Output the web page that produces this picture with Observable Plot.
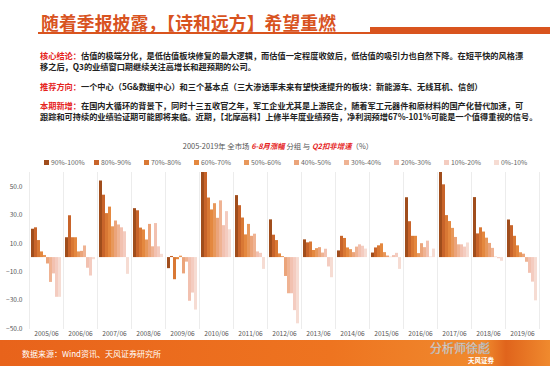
<!DOCTYPE html>
<html>
<head>
<meta charset="utf-8">
<script src="https://cdn.jsdelivr.net/npm/d3@7"></script>
<script src="https://cdn.jsdelivr.net/npm/@observablehq/plot@0.6"></script>
<style>
  html, body { margin: 0; padding: 0; background: #fff; }
  #page { position: relative; width: 550px; height: 366px; overflow: hidden; background: #fff;
          font-family: "Noto Sans CJK SC", "Noto Sans", sans-serif; }
  .abs { position: absolute; white-space: nowrap; }
  #title { left: 41px; top: 9px; font-size: 17.8px; font-weight: 700; color: #d8531f; letter-spacing: 0.1px; }
  #uline { left: 38px; top: 32px; width: 332px; height: 2px; background: #d9541e; }
  #ublock { left: 370px; top: 27px; width: 180px; height: 7px; background: #d9541e; }
  .para { left: 40px; font-size: 8.2px; font-weight: 700; color: #222; line-height: 11px; }
  .red { color: #e5231d; }
  #ctitle { left: 0; width: 556px; text-align: center; top: 140px; font-size: 7.4px; color: #555; }
  #ctitle .r { color: #e5231d; font-style: italic; font-weight: 700; }
  #legend { left: 44px; top: 157px; display: flex; font-size: 6.8px; color: #666; }
  #legend .it { width: 50px; display: flex; align-items: center; }
  #legend .sw { width: 5px; height: 5px; margin-right: 2px; }
  #chart { left: 0; top: 165px; }
  #footer { left: 0; top: 340px; width: 550px; height: 26px;
            background: linear-gradient(90deg, #e8631b 0%, #ee7420 60%, #f08a2e 88%, #e0641c 92%, #f08a2e 100%); }
  #src { left: 22px; top: 348px; font-size: 8px; color: #fff; }
  #wm { left: 430px; top: 342px; font-size: 12px; line-height: 12px; color: rgba(255,255,255,0.8); -webkit-text-stroke: 0.4px #aaa; font-weight: 400; }
  #logo { left: 468px; top: 356px; font-size: 6.5px; line-height: 8px; color: #fff; font-weight: 700; }
</style>
</head>
<body>
<div id="page">
  <div class="abs" id="title">随着季报披露，【诗和远方】希望重燃</div>
  <div class="abs" id="uline"></div>
  <div class="abs" id="ublock"></div>

  <div class="abs para" style="top:50px"><span class="red">核心结论：</span>估值的极端分化，是低估值板块修复的最大逻辑，而估值一定程度收敛后，低估值的吸引力也自然下降。在短平快的风格漂</div>
  <div class="abs para" style="top:61px">移之后，Q3的业绩窗口期继续关注高增长和超预期的公司。</div>
  <div class="abs para" style="top:81px"><span class="red">推荐方向：</span>一个中心（5G&amp;数据中心）和三个基本点（三大渗透率未来有望快速提升的板块：新能源车、无线耳机、信创）</div>
  <div class="abs para" style="top:100px"><span class="red">本期新增：</span>在国内大循环的背景下，同时十三五收官之年，军工企业尤其是上游民企，随着军工元器件和原材料的国产化替代加速，可</div>
  <div class="abs para" style="top:111px">跟踪和可持续的业绩验证期可能即将来临。近期，【北摩高科】上修半年度业绩预告，净利润预增67%-101%可能是一个值得重视的信号。</div>

  <div class="abs" id="ctitle">2005-2019年 全市场 <span class="r">6-8月涨幅</span> 分组 与 <span class="r">Q2扣非增速</span>（%）</div>
  <div class="abs" id="legend"></div>
  <div class="abs" id="chart"></div>

  <div class="abs" id="footer"></div>
  <div class="abs" id="src">数据来源：Wind资讯、天风证券研究所</div>
  <div class="abs" id="wm">分析师徐彪</div>
  <div class="abs" id="logo">天风证券</div>
</div>
<script>
// ---- data ----
const years = ["2005/06","2006/06","2007/06","2008/06","2009/06","2010/06","2011/06","2012/06","2013/06","2014/06","2015/06","2016/06","2017/06","2018/06","2019/06"];
const deciles = ["90%-100%","80%-90%","70%-80%","60%-70%","50%-60%","40%-50%","30%-40%","20%-30%","10%-20%","0%-10%"];
const colors = ["#a04d1c","#c8642a","#d97834","#e4883f","#e8985b","#eba47a","#efb393","#f2c1b0","#f4ccc0","#f6dcd3"];
const v2005 = [20, 21, 12, 4, 1.5, -4.5, -17.5, -11.5, -28, -28];
const v2006 = [14, 29.5, 14, 14, 4, 4.4, 8.2, -7.5, -13, -1.5];
const v2007 = [54, 44, 31, 35.6, 21.7, 25.8, 23, 21, 18.2, -11.8];
const v2008 = [34.5, 33, 20.8, 19.5, 12.4, 23.4, 7.6, 24, 7.6, 2.3];
const v2009 = [-7.8, 0.8, -15.6, -1.5, 1, -11.5, -3.2, -30.8, -25, -37];
const v2010 = [60, 60, 42, 33.6, 38, 27.7, 40, 22.5, 32.4, 19.6];
const v2011 = [43.7, 36.6, 27.9, 16, 23.4, 15, 16.5, 4, 3, -8.3];
const v2012 = [26.6, 15.8, 12, 2.6, 0.7, -13.3, -25.5, -25.5, -37.4, -46.7];
const v2013 = [12.5, 10.4, 11, 5, 6.3, 7, 3.2, 5.9, -6.6, -14.2];
const v2014 = [4.7, 15, 13.5, 6.8, 5.6, 3.5, 7.4, 9, 8, 6];
const v2015 = [3.2, 6.8, 8.3, 9.7, 3.5, 1.1, 0.2, 1.4, 3, -8.3];
const v2016 = [42.2, 25.3, 15, 15, 2.8, 9.8, 7, 11.6, 0.3, 6];
const v2017 = [60, 51.3, 29.6, 25.4, 20.6, 14.2, 9, 9, 7.4, 10.3];
const v2018 = [42.3, 16.7, 21, 18, 13.7, 10, 6.5, 0.3, -0.8, -2.6];
const v2019 = [26.5, 22.5, 15, 8.3, 3.4, 2.4, -3.3, -11.1, -17.3, -30.5];
const yTicks = [-50, -30, -10, 10, 30, 50];

const series = [v2005,v2006,v2007,v2008,v2009,v2010,v2011,v2012,v2013,v2014,v2015,v2016,v2017,v2018,v2019];
const rows = [];
years.forEach((yr, i) => deciles.forEach((d, j) => rows.push({year: yr, decile: d, value: series[i][j]})));

// legend
const lg = document.getElementById("legend");
deciles.forEach((d, i) => {
  const it = document.createElement("div"); it.className = "it";
  const sw = document.createElement("div"); sw.className = "sw"; sw.style.background = colors[i];
  const t = document.createElement("span"); t.textContent = d;
  it.appendChild(sw); it.appendChild(t); lg.appendChild(it);
});

const chart = Plot.plot({
  width: 550,
  height: 175,
  marginLeft: 28,
  marginRight: 11,
  marginTop: 7,
  marginBottom: 12,
  style: {fontFamily: "'Noto Sans CJK SC', sans-serif", fontSize: "6.6px", color: "#555", background: "transparent", overflow: "visible"},
  fx: {domain: years, padding: 0, label: null, axis: "bottom", tickSize: 0, tickPadding: 3},
  x: {domain: deciles, axis: null, paddingInner: 0.12, paddingOuter: 0.35},
  y: {domain: [-50, 60], ticks: yTicks, tickFormat: d3.format(".1f"), tickSize: 0, tickPadding: 7, label: null},
  color: {domain: deciles, range: colors},
  marks: [
    Plot.frame({anchor: "left", stroke: "#ececec"}),
    Plot.frame({anchor: "right", stroke: "#ececec"}),
    Plot.barY(rows, {fx: "year", x: "decile", y: "value", fill: "decile"})
  ]
});
document.getElementById("chart").appendChild(chart);
</script>
</body>
</html>
